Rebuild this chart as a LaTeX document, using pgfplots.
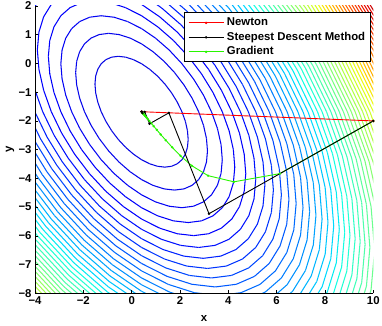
\documentclass[border=0pt]{standalone}
\usepackage{fontspec}
\setmainfont{Liberation Sans}
\usepackage{pgfplots}
\usepackage{pgfplotstable}
\pgfplotsset{compat=1.18}

% unit level curve of f(d)=dx^2+dx*dy+dy^2 = 1 (36 points + closing point)
\pgfplotstableread{
u v
0.5774 0.5774
0.7422 0.3950
0.8845 0.2005
1.0000 0.0000
1.0851 -0.2005
1.1371 -0.3949
1.1547 -0.5773
1.1372 -0.7422
1.0850 -0.8846
1.0000 -1.0000
0.8846 -1.0850
0.7422 -1.1372
0.5773 -1.1547
0.3949 -1.1371
0.2005 -1.0851
0.0000 -1.0000
-0.2005 -0.8845
-0.3950 -0.7422
-0.5774 -0.5774
-0.7422 -0.3950
-0.8845 -0.2005
-1.0000 0.0000
-1.0851 0.2005
-1.1371 0.3949
-1.1547 0.5773
-1.1372 0.7422
-1.0850 0.8846
-1.0000 1.0000
-0.8846 1.0850
-0.7422 1.1372
-0.5773 1.1547
-0.3949 1.1371
-0.2005 1.0851
0.0000 1.0000
0.2005 0.8845
0.3950 0.7422
0.5774 0.5774
}\unitell

\pgfplotstableread{
x y
10 -2
0.41 -1.68
}\newton

\pgfplotstableread{
x y
10 -2
3.20 -5.23
1.54 -1.72
0.74 -2.10
0.54 -1.685
0.449 -1.729
0.426 -1.681
0.415 -1.684
0.41 -1.68
}\steepest

\pgfplotstableread{
x y
10 -2
6.13 -3.835
4.23 -4.12
3.16 -3.905
2.49 -3.56
2.02 -3.215
1.68 -2.92
1.41 -2.67
1.20 -2.47
1.04 -2.31
0.91 -2.18
0.81 -2.08
0.73 -2.00
0.66 -1.93
0.61 -1.88
0.57 -1.84
0.54 -1.81
0.51 -1.78
0.49 -1.76
0.47 -1.74
0.46 -1.73
0.45 -1.72
0.44 -1.71
0.435 -1.705
0.43 -1.70
}\gradient

\definecolor{gcol}{RGB}{40,245,0}

\pgfplotsset{colormap={myjet}{rgb(0pt)=(0.05,0.05,0.8); rgb(22pt)=(0,0,1); rgb(25pt)=(0,0,1); rgb(68pt)=(0,0.86,1); rgb(70pt)=(0,0.9,0.9677); rgb(75pt)=(0.0806,1,0.8871); rgb(128pt)=(0.9194,1,0.0806); rgb(135pt)=(1,0.857,0); rgb(160pt)=(1,0.365,0); rgb(182pt)=(0.903,0,0); rgb(200pt)=(0.5,0,0)}}

\begin{document}
\begin{tikzpicture}
\path[use as bounding box] (-35bp,-32.7bp) rectangle (347bp,293.3bp);
\begin{axis}[
  at={(0,0)}, anchor=south west,
  scale only axis, width=338.3bp, height=287.3bp,
  xmin=-4, xmax=10, ymin=-8, ymax=2,
  axis lines=left, axis line style={-, line width=0.8bp},
  axis on top,
  tick align=inside, major tick length=3bp,
  tick style={black, line width=0.6bp},
  xtick={-4,-2,...,10}, xticklabels={−4,−2,0,2,4,6,8,10},
  ytick={-8,-7,...,2}, yticklabels={−8,−7,−6,−5,−4,−3,−2,−1,0,1,2},
  ticklabel style={font=\bfseries\fontsize{11.4}{13}\selectfont},
  xlabel={x}, ylabel={y},
  label style={font=\bfseries\fontsize{11.4}{13}\selectfont},
  x label style={at={(axis description cs:0.5,-0.086)}, anchor=center},
  y label style={at={(axis description cs:-0.074,0.5)}, anchor=center, rotate=0},
  colormap name=myjet, point meta min=-5, point meta max=150,
  legend style={at={(1,1)}, anchor=north east, xshift=-2.6bp, yshift=-6.5bp,
    draw=black, line width=0.9bp, fill=white,
    font=\bfseries\fontsize{11.4}{13}\selectfont,
    inner xsep=3.6bp, inner ysep=2.9bp, row sep=0.5bp, column sep=1.4bp,
    nodes={inner sep=1.5bp, text height=8.5bp, text depth=2.5bp},
    cells={anchor=west}},
  legend image code/.code={\draw[mark repeat=2,mark phase=2,#1] plot coordinates {(0bp,0bp) (17.5bp,0bp) (35bp,0bp)};},
]
\pgfplotsinvokeforeach{2.79,5.58,8.37,11.16,13.95,16.74,19.53,22.32,25.11,27.90,30.69,33.48,36.27,39.06,41.85,44.64,47.43,50.22,53.01,55.80,58.59,61.38,64.17,66.96,69.75,72.54,75.33,78.12,80.91,83.70,86.49,89.28,92.07,94.86,97.65,100.44,103.23,106.02,108.81,111.60,114.39,117.18,119.97,122.76,125.55,128.34,131.13,133.92,136.71,139.50}{
  \addplot[mesh, point meta=#1, line width=1.05bp, forget plot]
    table[x expr={0.41+sqrt(#1)*\thisrow{u}}, y expr={-1.68+sqrt(#1)*\thisrow{v}}] {\unitell};
}
\addplot[gcol, line width=0.9bp, mark=*, mark size=0.7bp, forget plot] table {\gradient};
\addplot[red, line width=0.9bp, mark=*, mark size=0.7bp] table {\newton};
\addlegendentry{Newton}
\addplot[black, line width=0.9bp, mark=*, mark size=0.7bp] table {\steepest};
\addlegendentry{Steepest Descent Method}
\addlegendimage{gcol, line width=0.9bp, mark=*, mark size=0.7bp}
\addlegendentry{Gradient}
\end{axis}
\end{tikzpicture}
\end{document}
